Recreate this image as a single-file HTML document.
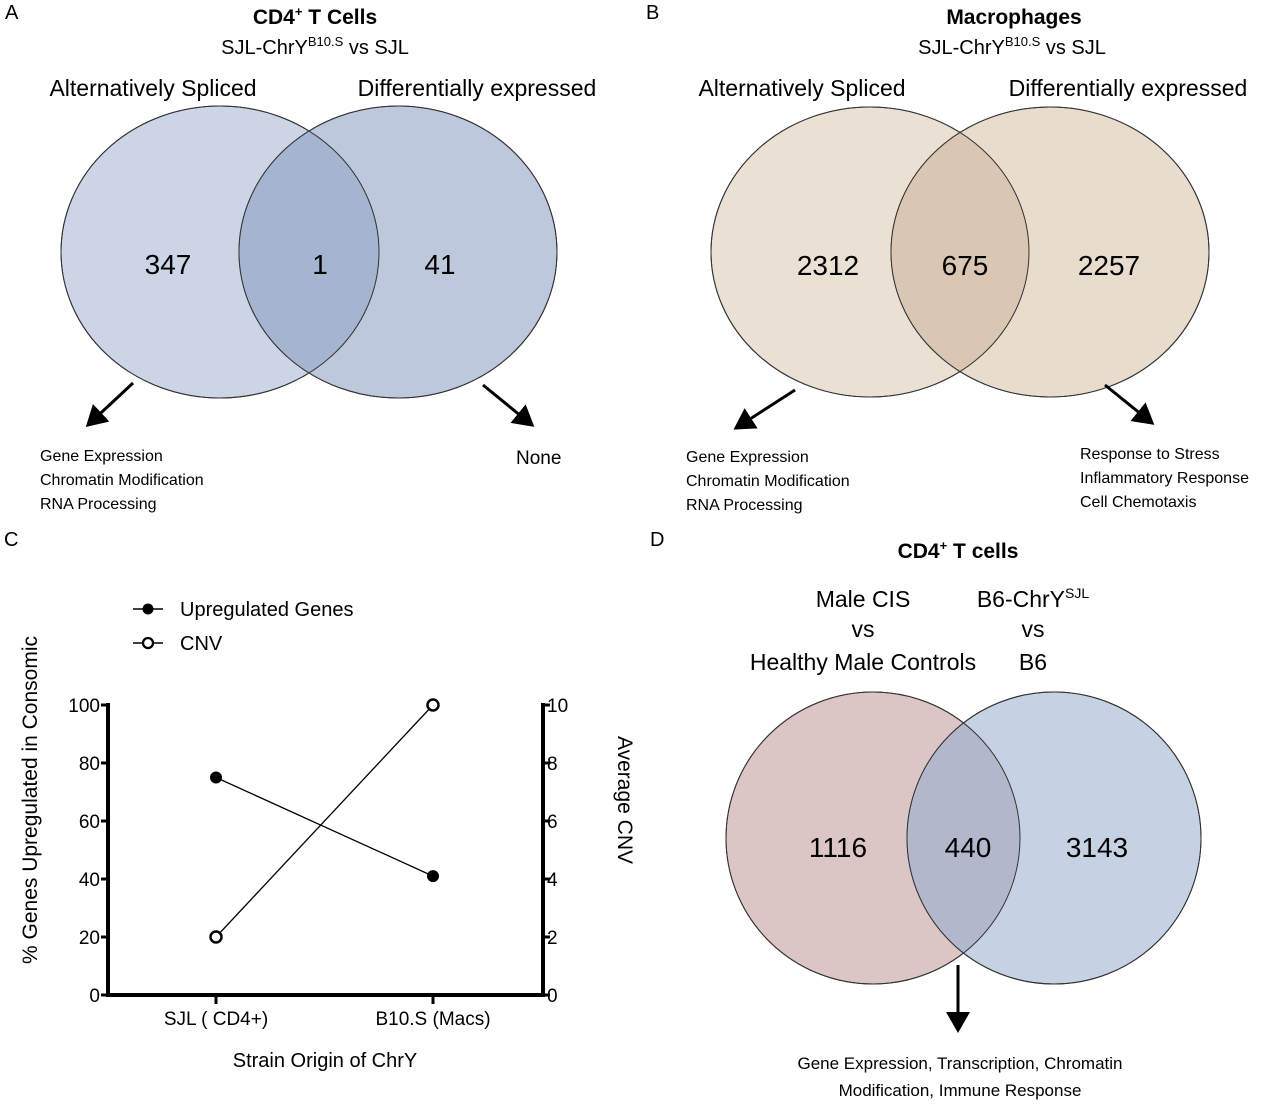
<!DOCTYPE html>
<html><head><meta charset="utf-8"><style>
body{margin:0;background:#fff}
svg{display:block;font-family:"Liberation Sans",sans-serif}
</style></head><body>
<svg width="1280" height="1105" viewBox="0 0 1280 1105">
<defs>
<marker id="ah" markerWidth="8" markerHeight="8" refX="6" refY="4" orient="auto" markerUnits="strokeWidth"><path d="M0,0 L7,4 L0,8 Z" fill="#000"/></marker>
<clipPath id="cA"><ellipse cx="220" cy="252" rx="159" ry="146"/></clipPath>
<clipPath id="cB"><ellipse cx="870" cy="252" rx="159" ry="145"/></clipPath>
<clipPath id="cD"><ellipse cx="873" cy="838" rx="147" ry="146"/></clipPath>
</defs>
<g font-size="20">
<text x="5" y="19">A</text><text x="646" y="19">B</text><text x="4" y="546">C</text><text x="650" y="546">D</text>
</g>
<!-- Panel A -->
<g>
<text x="315" y="24" text-anchor="middle" font-size="21" font-weight="bold">CD4<tspan font-size="13" dy="-8">+</tspan><tspan dy="8"> T Cells</tspan></text>
<text x="315" y="54" text-anchor="middle" font-size="20">SJL-ChrY<tspan font-size="13" dy="-8">B10.S</tspan><tspan dy="8"> vs SJL</tspan></text>
<text x="153" y="96" text-anchor="middle" font-size="23">Alternatively Spliced</text>
<text x="477" y="96" text-anchor="middle" font-size="23">Differentially expressed</text>
<ellipse cx="220" cy="252" rx="159" ry="146" fill="#cbd5e6" stroke="#333"/>
<ellipse cx="398" cy="252" rx="159" ry="146" fill="#bdc8dd" stroke="#333"/>
<ellipse cx="398" cy="252" rx="159" ry="146" fill="#a5b4cf" clip-path="url(#cA)"/>
<ellipse cx="220" cy="252" rx="159" ry="146" fill="none" stroke="#333"/>
<ellipse cx="398" cy="252" rx="159" ry="146" fill="none" stroke="#333"/>
<g font-size="28" text-anchor="middle"><text x="168" y="274">347</text><text x="320" y="274">1</text><text x="440" y="274">41</text></g>
<line x1="133" y1="383" x2="88" y2="425" stroke="#000" stroke-width="3" marker-end="url(#ah)"/>
<line x1="483" y1="385" x2="532" y2="425" stroke="#000" stroke-width="3" marker-end="url(#ah)"/>
<g font-size="16"><text x="40" y="461">Gene Expression</text><text x="40" y="485">Chromatin Modification</text><text x="40" y="509">RNA Processing</text></g>
<text x="516" y="464" font-size="19">None</text>
</g>
<!-- Panel B -->
<g>
<text x="1014" y="24" text-anchor="middle" font-size="21" font-weight="bold">Macrophages</text>
<text x="1012" y="54" text-anchor="middle" font-size="20">SJL-ChrY<tspan font-size="13" dy="-8">B10.S</tspan><tspan dy="8"> vs SJL</tspan></text>
<text x="802" y="96" text-anchor="middle" font-size="23">Alternatively Spliced</text>
<text x="1128" y="96" text-anchor="middle" font-size="23">Differentially expressed</text>
<ellipse cx="870" cy="252" rx="159" ry="145" fill="#ebe0d4" stroke="#333"/>
<ellipse cx="1050" cy="252" rx="159" ry="145" fill="#e8dccd" stroke="#333"/>
<ellipse cx="1050" cy="252" rx="159" ry="145" fill="#dac7b3" clip-path="url(#cB)"/>
<ellipse cx="870" cy="252" rx="159" ry="145" fill="none" stroke="#333"/>
<ellipse cx="1050" cy="252" rx="159" ry="145" fill="none" stroke="#333"/>
<g font-size="28" text-anchor="middle"><text x="828" y="275">2312</text><text x="965" y="275">675</text><text x="1109" y="275">2257</text></g>
<line x1="795" y1="390" x2="736" y2="428" stroke="#000" stroke-width="3" marker-end="url(#ah)"/>
<line x1="1105" y1="385" x2="1152" y2="423" stroke="#000" stroke-width="3" marker-end="url(#ah)"/>
<g font-size="16"><text x="686" y="462">Gene Expression</text><text x="686" y="486">Chromatin Modification</text><text x="686" y="510">RNA Processing</text>
<text x="1080" y="459">Response to Stress</text><text x="1080" y="483">Inflammatory Response</text><text x="1080" y="507">Cell Chemotaxis</text></g>
</g>
<!-- Panel D -->
<g>
<text x="958" y="558" text-anchor="middle" font-size="21" font-weight="bold">CD4<tspan font-size="13" dy="-8">+</tspan><tspan dy="8"> T cells</tspan></text>
<g font-size="23" text-anchor="middle"><text x="863" y="607">Male CIS</text><text x="863" y="637">vs</text><text x="863" y="670">Healthy Male Controls</text>
<text x="1033" y="607">B6-ChrY<tspan font-size="14" dy="-9">SJL</tspan></text><text x="1033" y="637">vs</text><text x="1033" y="670">B6</text></g>
<ellipse cx="873" cy="838" rx="147" ry="146" fill="#dcc6c5" stroke="#333"/>
<ellipse cx="1054" cy="838" rx="147" ry="146" fill="#c6d2e4" stroke="#333"/>
<ellipse cx="1054" cy="838" rx="147" ry="146" fill="#b2b7cb" clip-path="url(#cD)"/>
<ellipse cx="873" cy="838" rx="147" ry="146" fill="none" stroke="#333"/>
<ellipse cx="1054" cy="838" rx="147" ry="146" fill="none" stroke="#333"/>
<g font-size="28" text-anchor="middle"><text x="838" y="857">1116</text><text x="968" y="857">440</text><text x="1097" y="857">3143</text></g>
<line x1="958" y1="965" x2="958" y2="1030" stroke="#000" stroke-width="3" marker-end="url(#ah)"/>
<g font-size="17" text-anchor="middle"><text x="960" y="1069">Gene Expression, Transcription, Chromatin</text><text x="960" y="1096">Modification, Immune Response</text></g>
</g>
<!-- Panel C chart -->
<g id="chartC"></g>
</svg>
<script>
const categories = ["SJL ( CD4+)", "B10.S (Macs)"];
const upregulated = [75, 41];
const cnv = [2, 10];
const leftTicks = [0, 20, 40, 60, 80, 100];
const rightTicks = [0, 2, 4, 6, 8, 10];

const NS = "http://www.w3.org/2000/svg";
const g = document.getElementById("chartC");
const L = 108, R = 543, Y0 = 995, Y1 = 705;
const yL = v => Y0 - (v / 100) * (Y0 - Y1);
const yR = v => Y0 - (v / 10) * (Y0 - Y1);
const xC = i => 216 + i * 217;
function mk(tag, attrs, text) {
  const e = document.createElementNS(NS, tag);
  for (const k in attrs) e.setAttribute(k, attrs[k]);
  if (text !== undefined) e.textContent = text;
  g.appendChild(e);
  return e;
}
let e;
e = mk("line", {x1: L, y1: Y1 - 2, x2: L, y2: Y0 + 2, stroke: "#000", "stroke-width": 4});


e = mk("line", {x1: R, y1: Y1 - 2, x2: R, y2: Y0 + 2, stroke: "#000", "stroke-width": 4});


e = mk("line", {x1: L, y1: Y0, x2: R, y2: Y0, stroke: "#000", "stroke-width": 4});


leftTicks.forEach(v => {
  mk("line", {x1: L - 7, y1: yL(v), x2: L, y2: yL(v), stroke: "#000", "stroke-width": 3});
  e = mk("text", {x: L - 8, y: yL(v) + 7, "text-anchor": "end", "font-size": 19}, v);
  
  
});
rightTicks.forEach(v => {
  mk("line", {x1: R, y1: yR(v), x2: R + 7, y2: yR(v), stroke: "#000", "stroke-width": 3});
  e = mk("text", {x: R + 4, y: yR(v) + 7, "font-size": 19}, v);
  
  
});
categories.forEach((c, i) => {
  mk("line", {x1: xC(i), y1: Y0, x2: xC(i), y2: Y0 + 9, stroke: "#000", "stroke-width": 3});
  e = mk("text", {x: xC(i), y: Y0 + 30, "text-anchor": "middle", "font-size": 19}, c);
  
  
});
e = mk("polyline", {points: upregulated.map((v, i) => xC(i) + "," + yL(v)).join(" "), fill: "none", stroke: "#000", "stroke-width": 1.3});


e = mk("polyline", {points: cnv.map((v, i) => xC(i) + "," + yR(v)).join(" "), fill: "none", stroke: "#000", "stroke-width": 1.3});


upregulated.forEach((v, i) => {
  e = mk("circle", {cx: xC(i), cy: yL(v), r: 6, fill: "#000"});
  
  
});
cnv.forEach((v, i) => {
  e = mk("circle", {cx: xC(i), cy: yR(v), r: 5.5, fill: "#fff", stroke: "#000", "stroke-width": 2.5});
  
  
});
mk("line", {x1: 133, y1: 609, x2: 163, y2: 609, stroke: "#000", "stroke-width": 1.5});
mk("circle", {cx: 148, cy: 609, r: 5.5, fill: "#000"});
e = mk("text", {x: 180, y: 616, "font-size": 20}, "Upregulated Genes");


mk("line", {x1: 133, y1: 643, x2: 163, y2: 643, stroke: "#000", "stroke-width": 1.5});
mk("circle", {cx: 148, cy: 643, r: 5, fill: "#fff", stroke: "#000", "stroke-width": 2.3});
e = mk("text", {x: 180, y: 650, "font-size": 20}, "CNV");


e = mk("text", {x: 325, y: 1067, "text-anchor": "middle", "font-size": 20}, "Strain Origin of ChrY");


e = mk("text", {x: 0, y: 0, "text-anchor": "middle", "font-size": 21, transform: "translate(37,800) rotate(-90)"}, "% Genes Upregulated in Consomic");


e = mk("text", {x: 0, y: 0, "text-anchor": "middle", "font-size": 21, transform: "translate(618,800) rotate(90)"}, "Average CNV");


</script>
</body></html>
